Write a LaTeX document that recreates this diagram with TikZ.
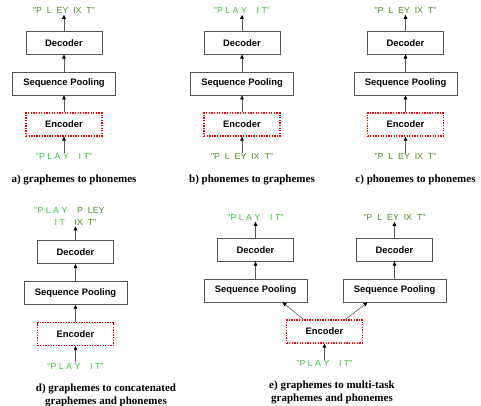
\documentclass[tikz,border=0pt]{standalone}
\usepackage{fontspec}
\setmainfont{Liberation Serif}
\newfontfamily\sansf{Liberation Sans}
\usepackage{xcolor}
\usetikzlibrary{arrows.meta, positioning}
\definecolor{graphc}{HTML}{3CC43C}
\definecolor{phonc}{HTML}{4F8A2A}
\definecolor{edgec}{HTML}{555555}

\begin{document}
\begin{tikzpicture}[
  x=1pt, y=-1pt,
  node distance=17pt,
  box/.style={draw=edgec, line width=0.8pt, fill=white, minimum width=76pt, minimum height=23pt,
    inner sep=2pt, font=\sansf\bfseries\fontsize{9.4}{11}\selectfont},
  pool/.style={box, minimum width=103pt},
  enc/.style={box, draw=red, line width=1.3pt, dash pattern=on 1.3pt off 1.3pt},
  gph/.style={inner sep=1pt, text=graphc, font=\sansf\fontsize{8.8}{12}\selectfont, align=center},
  phn/.style={gph, text=phonc},
  arr/.style={-{Triangle[length=4pt, width=3.6pt, color=black]}, line width=0.6pt, draw=black!65},
  capt/.style={font=\bfseries\fontsize{11}{13.5}\selectfont, align=center}
]
\useasboundingbox (0,0) rectangle (481,405);

% a) graphemes to phonemes
\node[enc] (encA) at (64,124.5) {Encoder};
\node[pool, above=of encA] (poolA) {Sequence Pooling};
\node[box, above=of poolA] (decA) {Decoder};
\node[phn, above=16pt of decA] (outA) {"P~~L~~EY~~IX~~T"};
\node[gph, below=16pt of encA] (inA) {"P~L~A~Y~~~~I~T"};
\node[capt] (capA) at (74,180) {a) graphemes to phonemes};

% b) phonemes to graphemes
\node[enc] (encB) at (242,124.5) {Encoder};
\node[pool, above=of encB] (poolB) {Sequence Pooling};
\node[box, above=of poolB] (decB) {Decoder};
\node[gph, above=16pt of decB] (outB) {"P~L~A~Y~~~~I~T"};
\node[phn, below=16pt of encB] (inB) {"P~~L~~EY~~IX~~T"};
\node[capt] (capB) at (252,180) {b) phonemes to graphemes};

% c) phonemes to phonemes
\node[enc] (encC) at (405.5,124.5) {Encoder};
\node[pool, above=of encC] (poolC) {Sequence Pooling};
\node[box, above=of poolC] (decC) {Decoder};
\node[phn, above=16pt of decC] (outC) {"P~~L~~EY~~IX~~T"};
\node[phn, below=16pt of encC] (inC) {"P~~L~~EY~~IX~~T"};
\node[capt] (capC) at (415.5,180) {c) phonemes to phonemes};

% d) graphemes to concatenated graphemes and phonemes
\node[enc] (encD) at (75.5,334) {Encoder};
\node[pool, above=of encD] (poolD) {Sequence Pooling};
\node[box, above=of poolD] (decD) {Decoder};
\node[gph, above=14pt of decD] (outD)
  {"P~L~A~Y~~~~\textcolor{phonc}{P~~LEY}\hspace*{12pt}\\I~T~~~~\textcolor{phonc}{IX~~T"}};
\node[gph, below=16pt of encD] (inD) {"P~L~A~Y~~~~I~T"};
\node[capt] (capD) at (106,395.5) {d) graphemes to concatenated\\graphemes and phonemes};

% e) graphemes to multi-task graphemes and phonemes
\node[enc] (encE) at (324.5,331.5) {Encoder};
\node[pool, above=of encE, xshift=-69pt] (poolEg) {Sequence Pooling};
\node[pool, above=of encE, xshift=70pt] (poolEp) {Sequence Pooling};
\node[box, above=of poolEg] (decEg) {Decoder};
\node[box, above=of poolEp] (decEp) {Decoder};
\node[gph, above=16pt of decEg] (outEg) {"P~L~A~Y~~~~I~T"};
\node[phn, above=16pt of decEp] (outEp) {"P~~L~~EY~~IX~~T"};
\node[gph, below=16pt of encE] (inE) {"P~L~A~Y~~~~I~T"};
\node[capt] (capE) at (332,392.5) {e) graphemes to multi-task\\graphemes and phonemes};

\foreach \p in {A,B,C,D} {
  \draw[arr] (in\p) -- (enc\p);
  \draw[arr] (enc\p) -- (pool\p);
  \draw[arr] (pool\p) -- (dec\p);
  \draw[arr] (dec\p) -- (out\p);
}
\draw[arr] (inE) -- (encE);
\draw[arr] ([xshift=-21pt]encE.north) -- ([xshift=27pt]poolEg.south);
\draw[arr] ([xshift=21pt]encE.north) -- ([xshift=-27pt]poolEp.south);
\foreach \s in {g,p} {
  \draw[arr] (poolE\s) -- (decE\s);
  \draw[arr] (decE\s) -- (outE\s);
}
\end{tikzpicture}
\end{document}
